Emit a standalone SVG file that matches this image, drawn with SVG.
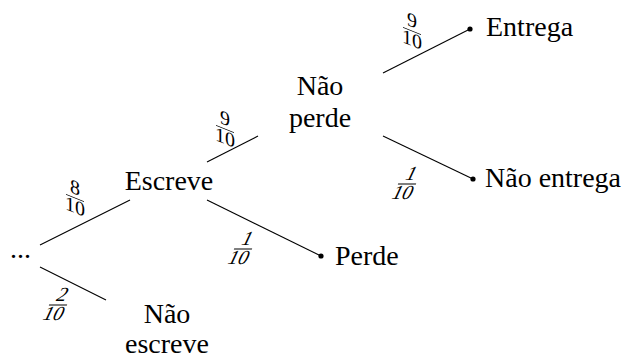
<svg xmlns="http://www.w3.org/2000/svg" width="634" height="358" viewBox="0 0 634 358">
<style>
text{font-family:"Liberation Serif","Times New Roman",serif;fill:#000}
.n{font-size:28px}
.f{font-size:20px;text-anchor:middle}
.c line{stroke:#000;stroke-width:1.1}
.bar{stroke:#000;stroke-width:0.9}
</style>
<rect width="634" height="358" fill="#fff"/>
<g id="connectors" class="c">
<line x1="40" y1="245" x2="130" y2="200"/>
<line x1="40" y1="267" x2="106" y2="300"/>
<line x1="207" y1="200" x2="321" y2="256"/>
<line x1="207" y1="162" x2="258" y2="136"/>
<line x1="383" y1="73" x2="470" y2="29"/>
<line x1="383" y1="136" x2="473" y2="179"/>
</g>
<g id="labels">
<g transform="translate(75,198) skewY(22)"><text class="f" x="0" y="-4">8</text><line class="bar" x1="-9" y1="0" x2="9" y2="0"/><text class="f" x="0" y="15">10</text></g>
<g transform="translate(58,305) skewX(-25)"><text class="f" x="0" y="-4">2</text><line class="bar" x1="-9" y1="0" x2="9" y2="0"/><text class="f" x="0" y="15">10</text></g>
<g transform="translate(225,129) skewY(22)"><text class="f" x="0" y="-4">9</text><line class="bar" x1="-9" y1="0" x2="9" y2="0"/><text class="f" x="0" y="15">10</text></g>
<g transform="translate(243,249) skewX(-25)"><text class="f" x="0" y="-4">1</text><line class="bar" x1="-9" y1="0" x2="9" y2="0"/><text class="f" x="0" y="15">10</text></g>
<g transform="translate(412,31) skewY(22)"><text class="f" x="0" y="-4">9</text><line class="bar" x1="-9" y1="0" x2="9" y2="0"/><text class="f" x="0" y="15">10</text></g>
<g transform="translate(407,184) skewX(-25)"><text class="f" x="0" y="-4">1</text><line class="bar" x1="-9" y1="0" x2="9" y2="0"/><text class="f" x="0" y="15">10</text></g>
</g>
<g id="root"><text class="n" x="10" y="258">...</text></g>
<g id="escreve"><text class="n" x="169" y="190" text-anchor="middle">Escreve</text></g>
<g id="nao-escreve"><text class="n" x="167" y="323" text-anchor="middle">Não</text><text class="n" x="167" y="353" text-anchor="middle">escreve</text></g>
<g id="nao-perde"><text class="n" x="320" y="95" text-anchor="middle">Não</text><text class="n" x="320" y="127" text-anchor="middle">perde</text></g>
<g id="perde"><circle cx="321" cy="256" r="2.6"/><text class="n" x="335" y="265">Perde</text></g>
<g id="entrega"><circle cx="470" cy="29" r="2.6"/><text class="n" x="486" y="36">Entrega</text></g>
<g id="nao-entrega"><circle cx="473" cy="179" r="2.6"/><text class="n" x="485" y="187">Não entrega</text></g>
</svg>
